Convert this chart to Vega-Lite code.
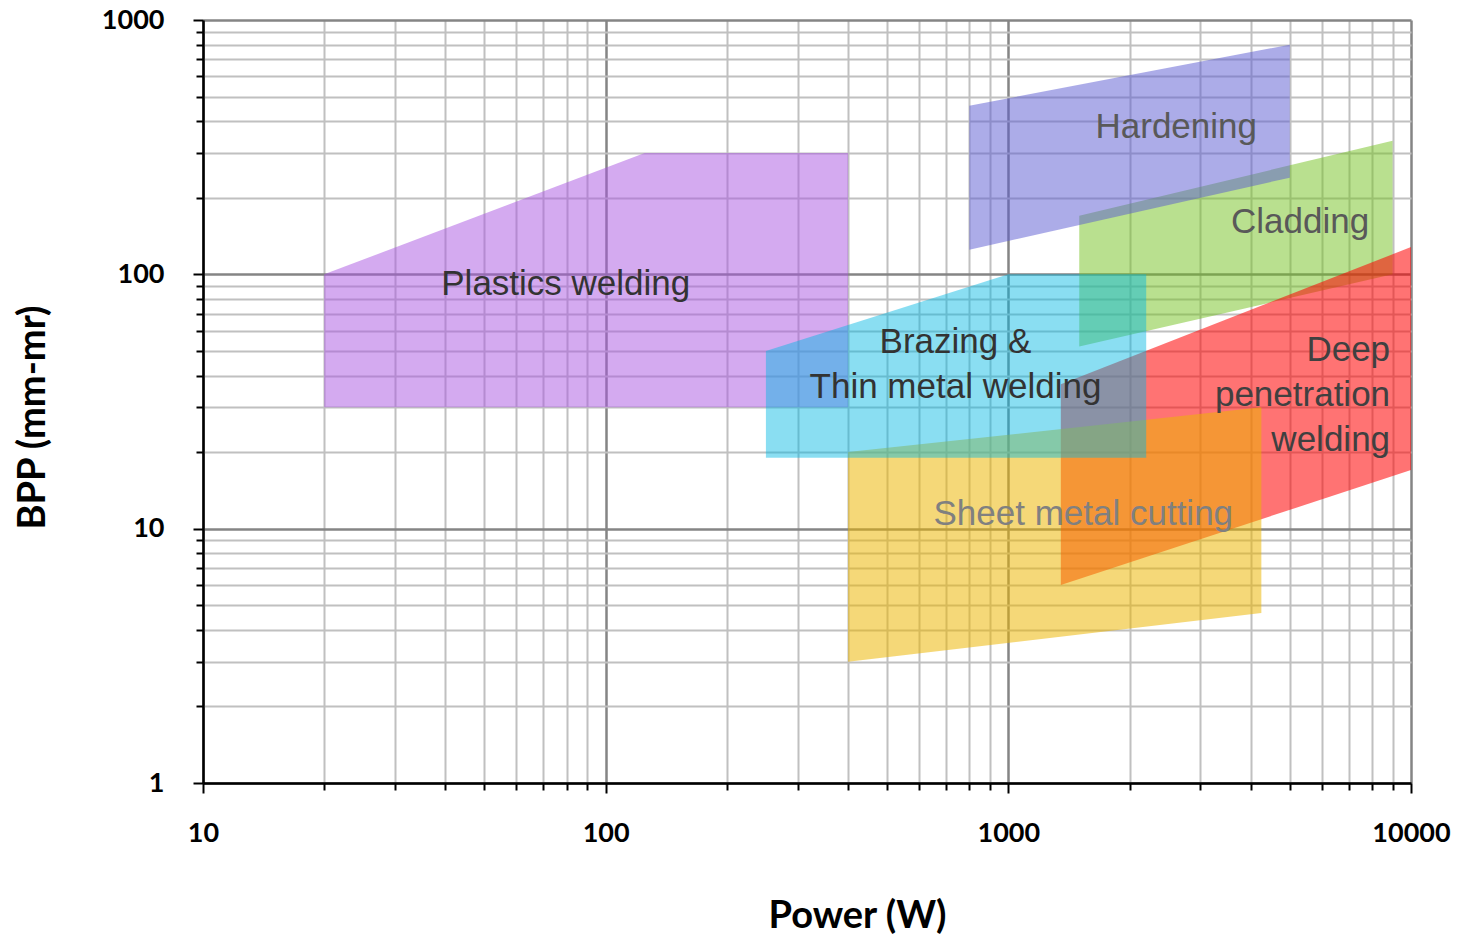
{
  "$schema": "https://vega.github.io/schema/vega-lite/v6.json",
  "width": 1208,
  "height": 763,
  "autosize": {"type": "none"},
  "padding": {"left": 203, "top": 20, "right": 53, "bottom": 158},
  "background": "white",
  "view": {"stroke": null},
  "config": {"font": "Liberation Sans"},
  "datasets": {
    "regions": [
      {"region": "Plastics welding", "power": 20, "bpp": 100, "bpp_low": 30},
      {"region": "Plastics welding", "power": 125, "bpp": 300, "bpp_low": 30},
      {"region": "Plastics welding", "power": 400, "bpp": 300, "bpp_low": 30},
      {"region": "Hardening", "power": 800, "bpp": 460, "bpp_low": 125},
      {"region": "Hardening", "power": 5000, "bpp": 800, "bpp_low": 240},
      {"region": "Cladding", "power": 1500, "bpp": 170, "bpp_low": 52},
      {"region": "Cladding", "power": 9000, "bpp": 335, "bpp_low": 100},
      {"region": "Brazing & Thin metal welding", "power": 250, "bpp": 50, "bpp_low": 19},
      {"region": "Brazing & Thin metal welding", "power": 1000, "bpp": 100, "bpp_low": 19},
      {"region": "Brazing & Thin metal welding", "power": 2200, "bpp": 100, "bpp_low": 19},
      {"region": "Sheet metal cutting", "power": 400, "bpp": 20, "bpp_low": 3},
      {"region": "Sheet metal cutting", "power": 4250, "bpp": 30, "bpp_low": 4.66},
      {"region": "Deep penetration welding", "power": 1350, "bpp": 37, "bpp_low": 6},
      {"region": "Deep penetration welding", "power": 10000, "bpp": 128, "bpp_low": 17}
    ],
    "labels": [
      {"label": "Plastics welding", "power": 79.6, "bpp": 92},
      {"label": "Hardening", "power": 2612, "bpp": 379},
      {"label": "Cladding", "power": 5305, "bpp": 160},
      {"label": "Brazing &", "power": 739, "bpp": 54},
      {"label": "Thin metal welding", "power": 739, "bpp": 36},
      {"label": "Sheet metal cutting", "power": 1535, "bpp": 11.4},
      {"label": "Deep", "power": 8872, "bpp": 50.4},
      {"label": "penetration", "power": 8872, "bpp": 33.5},
      {"label": "welding", "power": 8872, "bpp": 22.3}
    ]
  },
  "encoding": {
    "x": {
      "field": "power", "type": "quantitative",
      "scale": {"type": "log", "domain": [10, 10000], "nice": false},
      "axis": {
        "title": "Power (W)",
        "values": [10,20,30,40,50,60,70,80,90,100,200,300,400,500,600,700,800,900,1000,2000,3000,4000,5000,6000,7000,8000,9000,10000],
        "labelExpr": "indexof([10,100,1000,10000], datum.value) >= 0 ? format(datum.value, 'd') : ''",
        "labelFont": "Lato", "labelFontWeight": "bold", "labelFontSize": 27, "labelColor": "#000000",
        "labelPadding": 27, "labelOverlap": false, "labelBound": false, "labelFlush": false,
        "tickColor": "#000000", "tickWidth": 2,
        "tickSize": {"condition": {"test": "indexof([10,100,1000,10000], datum.value) >= 0", "value": 10}, "value": 7},
        "domainColor": "#000000", "domainWidth": 2.5,
        "grid": true,
        "gridColor": {"condition": {"test": "indexof([10,100,1000,10000], datum.value) >= 0", "value": "#858585"}, "value": "#c0c0c0"},
        "gridWidth": {"condition": {"test": "indexof([10,100,1000,10000], datum.value) >= 0", "value": 2.5}, "value": 2},
        "gridOpacity": 1,
        "titleFont": "Lato", "titleFontWeight": "bold", "titleFontSize": 38, "titleColor": "#000000",
        "titleX": 654, "titleY": 133, "titleBaseline": "middle", "titleAlign": "center"
      }
    },
    "y": {
      "field": "bpp", "type": "quantitative",
      "scale": {"type": "log", "domain": [1, 1000], "nice": false},
      "axis": {
        "title": "BPP (mm-mr)",
        "values": [1,2,3,4,5,6,7,8,9,10,20,30,40,50,60,70,80,90,100,200,300,400,500,600,700,800,900,1000],
        "labelExpr": "indexof([1,10,100,1000], datum.value) >= 0 ? format(datum.value, 'd') : ''",
        "labelFont": "Lato", "labelFontWeight": "bold", "labelFontSize": 27, "labelColor": "#000000",
        "labelPadding": 29, "labelOverlap": false, "labelBound": false, "labelFlush": false,
        "tickColor": "#000000", "tickWidth": 2,
        "tickSize": {"condition": {"test": "indexof([1,10,100,1000], datum.value) >= 0", "value": 10}, "value": 7},
        "domainColor": "#000000", "domainWidth": 2.5,
        "grid": true,
        "gridColor": {"condition": {"test": "indexof([1,10,100,1000], datum.value) >= 0", "value": "#858585"}, "value": "#c0c0c0"},
        "gridWidth": {"condition": {"test": "indexof([1,10,100,1000], datum.value) >= 0", "value": 2.5}, "value": 2},
        "gridOpacity": 1,
        "titleFont": "Lato", "titleFontWeight": "bold", "titleFontSize": 38, "titleColor": "#000000",
        "titleX": -170, "titleY": 397, "titleBaseline": "middle", "titleAlign": "center", "titleAngle": -90
      }
    }
  },
  "layer": [
    {
      "data": {"name": "regions"},
      "transform": [{"filter": "datum.region === 'Cladding'"}],
      "mark": {"type": "area", "fill": "#73c11f", "fillOpacity": 0.5, "clip": true},
      "encoding": {"y2": {"field": "bpp_low"}}
    },
    {
      "data": {"name": "regions"},
      "transform": [{"filter": "datum.region === 'Hardening'"}],
      "mark": {"type": "area", "fill": "#5a5ad2", "fillOpacity": 0.5, "clip": true},
      "encoding": {"y2": {"field": "bpp_low"}}
    },
    {
      "data": {"name": "regions"},
      "transform": [{"filter": "datum.region === 'Plastics welding'"}],
      "mark": {"type": "area", "fill": "#aa55e1", "fillOpacity": 0.5, "clip": true},
      "encoding": {"y2": {"field": "bpp_low"}}
    },
    {
      "data": {"name": "regions"},
      "transform": [{"filter": "datum.region === 'Deep penetration welding'"}],
      "mark": {"type": "area", "fill": "#ff0000", "fillOpacity": 0.55, "clip": true},
      "encoding": {"y2": {"field": "bpp_low"}}
    },
    {
      "data": {"name": "regions"},
      "transform": [{"filter": "datum.region === 'Sheet metal cutting'"}],
      "mark": {"type": "area", "fill": "#ecb500", "fillOpacity": 0.53, "clip": true},
      "encoding": {"y2": {"field": "bpp_low"}}
    },
    {
      "data": {"name": "regions"},
      "transform": [{"filter": "datum.region === 'Brazing & Thin metal welding'"}],
      "mark": {"type": "area", "fill": "#00b7e2", "fillOpacity": 0.46, "clip": true},
      "encoding": {"y2": {"field": "bpp_low"}}
    },
    {
      "data": {"name": "labels"},
      "transform": [{"filter": "indexof(['Deep', 'penetration', 'welding'], datum.label) < 0"}],
      "mark": {"type": "text", "font": "Liberation Sans", "fontSize": 35, "align": "center", "baseline": "middle"},
      "encoding": {
        "text": {"field": "label"},
        "color": {
          "condition": [
            {"test": "datum.label === 'Sheet metal cutting'", "value": "#808080"},
            {"test": "datum.label === 'Hardening' || datum.label === 'Cladding'", "value": "#595959"}
          ],
          "value": "#333333"
        }
      }
    },
    {
      "data": {"name": "labels"},
      "transform": [{"filter": "indexof(['Deep', 'penetration', 'welding'], datum.label) >= 0"}],
      "mark": {"type": "text", "font": "Liberation Sans", "fontSize": 35, "align": "right", "baseline": "middle", "color": "#404040"},
      "encoding": {"text": {"field": "label"}}
    }
  ]
}
